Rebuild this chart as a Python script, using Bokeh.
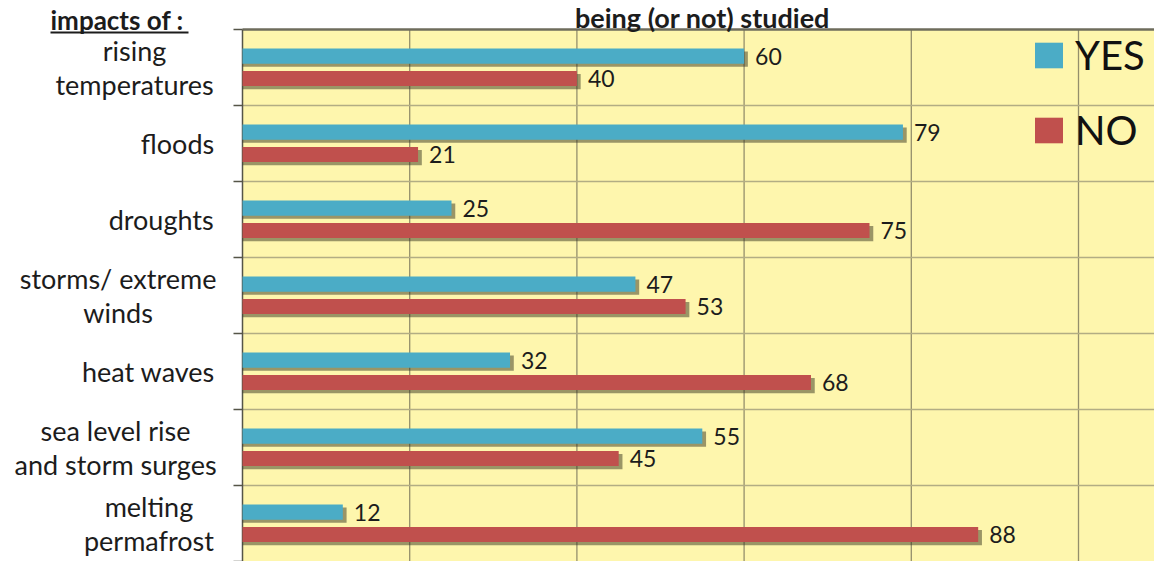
from bokeh.plotting import figure
from bokeh.models import Range1d, Legend, LegendItem, ColumnDataSource
from bokeh.core.properties import value
from bokeh.embed import file_html
from bokeh.resources import INLINE

# ---------------- data ----------------
categories = ["rising\ntemperatures", "floods", "droughts",
              "storms/ extreme\nwinds", "heat waves",
              "sea level rise\nand storm surges", "melting\npermafrost"]
yes_values = [60, 79, 25, 47, 32, 55, 12]
no_values = [40, 21, 75, 53, 68, 45, 88]
series_names = ["YES", "NO"]
x_grid_ticks = [20, 40, 60, 80, 100]
title_text = "being (or not) studied"
corner_text = "impacts of :"

# ---------------- style / layout ----------------
FONT = "Lato"
BLUE = "#4BACC6"
RED = "#C0504D"
BG = "#FEF6AD"
GRID = "#948f6c"
HGRID = "#b2ad84"
AXIS = "#555548"
TEXT = "#1c1c1c"
CAT_FS = 27
W, H = 1154, 561
LEFT_PX, TOP_PX = 242, 29          # where the plotting area starts
PX_PER_UNIT = 8.36                 # x pixels per percentage point
BAND_PX = 76                       # pixels per category band
BAND = 2.0                         # data units per category band
PY = BAND_PX / BAND                # y pixels per data unit

x_lo = -LEFT_PX / PX_PER_UNIT
x_hi = (W - LEFT_PX) / PX_PER_UNIT
y_top = -TOP_PX / PY
y_bot = (H - TOP_PX) / PY


def dx(px):        # horizontal pixel offset -> data units
    return px / PX_PER_UNIT


def dy(px):        # vertical pixel offset -> data units
    return px / PY


# approximate Lato advance widths (em) used to centre multi-line labels
_W = dict(a=.50, b=.56, c=.46, d=.56, e=.52, f=.31, g=.50, h=.56, i=.23,
          k=.50, l=.23, m=.85, n=.56, o=.56, p=.56, r=.36, s=.41, t=.35,
          u=.56, v=.50, w=.77, x=.49)
_W[" "] = .19
_W["/"] = .36


def text_width(s, size):
    return 0.985 * size * sum(_W.get(ch, .5) for ch in s)


n = len(categories)
centers = [BAND * i + BAND / 2 for i in range(n)]
bounds = [BAND * i for i in range(n + 1)]
y_yes = [BAND * i + 0.70 for i in range(n)]
y_no = [BAND * i + 1.29 for i in range(n)]
BAR_H = 0.40
SH_DY = 0.08
SH_DX = 0.45
area_right = x_hi
area_bottom = BAND * n

p = figure(width=W, height=H, output_backend="svg", toolbar_location=None,
           x_range=Range1d(x_lo, x_hi), y_range=Range1d(y_bot, y_top),
           min_border=0)
p.axis.visible = False
p.grid.visible = False
p.outline_line_color = None
p.background_fill_color = "white"
p.border_fill_color = "white"

# plotting area background
p.quad(left=[0], right=[area_right], top=[0], bottom=[area_bottom],
       fill_color=BG, line_color=None)
# grid lines
p.segment(x0=x_grid_ticks, x1=x_grid_ticks, y0=[0] * len(x_grid_ticks),
          y1=[area_bottom] * len(x_grid_ticks), line_color=GRID,
          line_width=1.3)
p.segment(x0=[0] * (n - 1), x1=[area_right] * (n - 1), y0=bounds[1:-1],
          y1=bounds[1:-1], line_color=HGRID, line_width=1.5)
# top border and category axis with outside ticks at band boundaries
p.segment(x0=[0], x1=[area_right], y0=[0], y1=[0], line_color="#6e6c5c",
          line_width=2.5)
p.segment(x0=[0], x1=[0], y0=[0], y1=[area_bottom], line_color=AXIS,
          line_width=1.5)
p.segment(x0=[-dx(9)] * len(bounds), x1=[0] * len(bounds), y0=bounds,
          y1=bounds, line_color=AXIS, line_width=1.5)

# category labels: lines centred, blocks right-aligned 30px left of axis
cat_x = [-dx(30 + max(text_width(ln, CAT_FS) for ln in lab.split("\n")) / 2)
         for lab in categories]
p.text(x=cat_x, y=centers, text=categories, text_font=value(FONT),
       text_font_size=f"{CAT_FS}px", text_align="center",
       text_baseline="middle", text_line_height=1.04, text_color=TEXT)

src = ColumnDataSource(dict(
    y_yes=y_yes, y_no=y_no,
    y_yes_s=[v + SH_DY for v in y_yes], y_no_s=[v + SH_DY for v in y_no],
    yes=yes_values, no=no_values,
    yes_s=[v + SH_DX for v in yes_values], no_s=[v + SH_DX for v in no_values],
    yes_lx=[v + dx(11) for v in yes_values],
    no_lx=[v + dx(11) for v in no_values],
    yes_t=[str(v) for v in yes_values], no_t=[str(v) for v in no_values],
))

# shadows
p.hbar(y="y_yes_s", left=0, right="yes_s", height=BAR_H, source=src,
       fill_color="#35331f", fill_alpha=0.5, line_color=None)
p.hbar(y="y_no_s", left=0, right="no_s", height=BAR_H, source=src,
       fill_color="#35331f", fill_alpha=0.5, line_color=None)
# bars
r_yes = p.hbar(y="y_yes", left=0, right="yes", height=BAR_H, source=src,
               fill_color=BLUE, line_color=None)
r_no = p.hbar(y="y_no", left=0, right="no", height=BAR_H, source=src,
              fill_color=RED, line_color=None)

# value labels
for xf, yf, tf in (("yes_lx", "y_yes", "yes_t"), ("no_lx", "y_no", "no_t")):
    p.text(x=xf, y=yf, text=tf, source=src, text_font=value(FONT),
           text_font_size="23px", text_color=TEXT, text_baseline="middle",
           text_align="left")

# legend
legend = Legend(items=[LegendItem(label=series_names[0], renderers=[r_yes]),
                       LegendItem(label=series_names[1], renderers=[r_no])],
                location=(1031, 406), orientation="vertical",
                background_fill_alpha=0, border_line_color=None,
                padding=0, margin=0, spacing=25,
                glyph_width=35, glyph_height=32, label_height=50,
                label_standoff=9, label_text_font=FONT,
                label_text_font_size="40px", label_text_color="#111111")
p.add_layout(legend)

# title and corner caption
title_x = dx((W - LEFT_PX) / 2 + 4)
p.text(x=[title_x], y=[-dy(12)], text=[title_text], text_font=value(FONT),
       text_font_size="27px", text_font_style="bold", text_align="center",
       text_baseline="alphabetic", text_color=TEXT)
p.text(x=[-dx(192)], y=[-dy(10)], text=[corner_text], text_font=value(FONT),
       text_font_size="26px", text_font_style="bold", text_align="left",
       text_baseline="alphabetic", text_color=TEXT)
p.segment(x0=[-dx(192)], x1=[-dx(54)], y0=[dy(3)], y1=[dy(3)],
          line_color=TEXT, line_width=2)

open("out.html", "w").write(file_html(p, INLINE))
